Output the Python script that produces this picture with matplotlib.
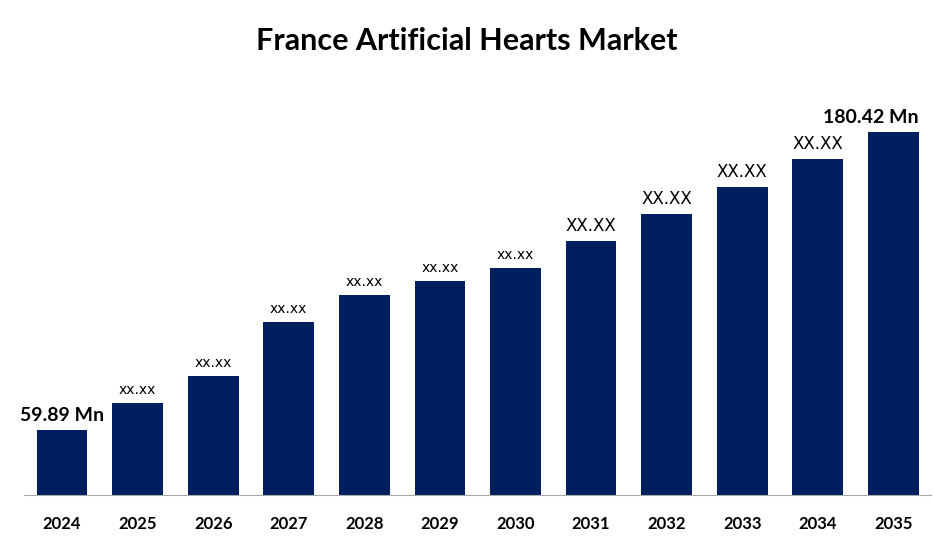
import matplotlib
matplotlib.use("Agg")
import matplotlib.pyplot as plt
plt.rcParams["font.family"] = "Lato"

years = ["2024","2025","2026","2027","2028","2029","2030","2031","2032","2033","2034","2035"]
values = [59.89,70.8,81.7,103.6,114.5,120.2,125.4,136.3,147.3,158.2,169.5,180.42]
labels = ["59.89 Mn","xx.xx","xx.xx","xx.xx","xx.xx","xx.xx","xx.xx","XX.XX","XX.XX","XX.XX","XX.XX","180.42 Mn"]

fig = plt.figure(figsize=(9.33,5.52), dpi=100)
ax = fig.add_axes([0.026, 0.103, 0.972, 0.716])
x = range(len(years))
ax.bar(x, values, width=0.67, color="#001f5f")
ax.set_ylim(33.6, 193.4)
ax.set_xlim(-0.5, len(years)-0.5)
for i,(v,l) in enumerate(zip(values,labels)):
    if i == 0:
        ax.text(i, v+2.5, l, ha="center", va="bottom", fontsize=14, fontweight="bold")
    elif i == len(years)-1:
        ax.text(i-0.3, v+2.5, l, ha="center", va="bottom", fontsize=14, fontweight="bold")
    elif i >= 7:
        ax.text(i, v+2.5, l, ha="center", va="bottom", fontsize=12, family="DejaVu Sans")
    else:
        ax.text(i, v+2.5, l, ha="center", va="bottom", fontsize=10, family="DejaVu Sans")
ax.set_xticks(list(x))
ax.set_xticklabels(years, fontsize=12, fontweight="bold")
ax.tick_params(axis="x", length=0, pad=15)
ax.set_yticks([])
for s in ["top","right","left"]:
    ax.spines[s].set_visible(False)
ax.spines["bottom"].set_color("#aaaaaa")
fig.text(0.5, 0.925, "France Artificial Hearts Market", ha="center", va="center", fontsize=22, fontweight="bold")
fig.savefig("out.png")
